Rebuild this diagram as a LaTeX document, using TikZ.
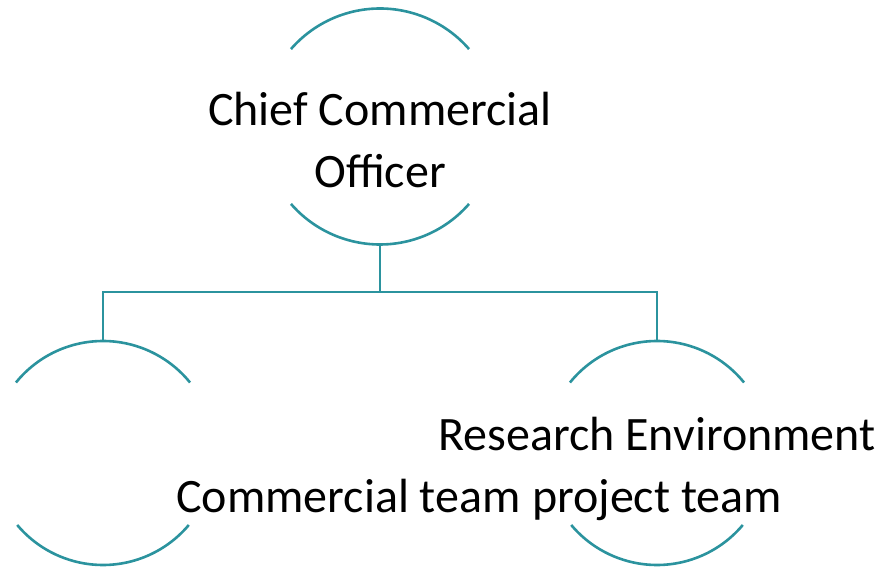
\documentclass[tikz,border=0pt]{standalone}
\usepackage{fontspec}
\setmainfont{Carlito}
\definecolor{orgteal}{HTML}{2B939E}
\tikzset{
  ring/.style={draw=orgteal,line width=2.6pt},
  link/.style={draw=orgteal,line width=2.6pt},
  holder/.style={circle,inner sep=0,outer sep=0},
  label/.style={font=\fontsize{48}{62}\selectfont,inner sep=0},
}
\begin{document}
\begin{tikzpicture}[x=1pt,y=1pt]
    \pgfmathsetmacro{\topradius}{118}
    \pgfmathsetmacro{\subradius}{112}
    \useasboundingbox (0,0) rectangle (883,567);
    % circles of the chart, only their arcs are drawn
    \node[holder,minimum size=2*\topradius pt] (cco) at (380,440.5) {};
    \node[holder,minimum size=2*\subradius pt] (com) at (103,114) {};
    \node[holder,minimum size=2*\subradius pt] (res) at (657,114) {};
    \draw[ring] (cco.139) arc[start angle=139,end angle=41,radius=\topradius];
    \draw[ring] (cco.-41) arc[start angle=-41,end angle=-139,radius=\topradius];
    \draw[ring] (com.141) arc[start angle=141,end angle=39,radius=\subradius];
    \draw[ring] (com.-40) arc[start angle=-40,end angle=-140,radius=\subradius];
    \draw[ring] (res.141) arc[start angle=141,end angle=39,radius=\subradius];
    \draw[ring] (res.-40) arc[start angle=-40,end angle=-140,radius=\subradius];
    % connectors
    \coordinate (fork) at (380,275);
    \draw[link] (cco.south) -- (fork) -| (com.north);
    \draw[link] (fork) -| (res.north);
    % labels
    \node[label,anchor=base,align=center] (cco-text) at (380,379) {Chief Commercial\\Officer};
    \node[label,anchor=base west] (com-text) at (176,54) {Commercial team};
    \node[label,anchor=base,align=center] (res-text) at (657,54) {Research Environment\\project team};
\end{tikzpicture}
\end{document}
